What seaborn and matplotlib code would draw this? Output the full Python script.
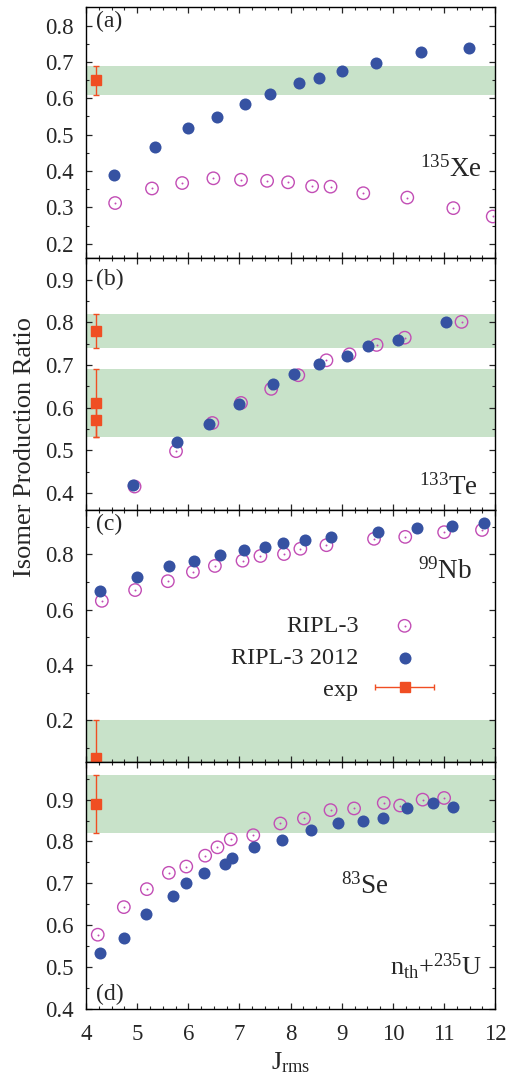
import matplotlib
matplotlib.use("Agg")
import matplotlib.pyplot as plt
import seaborn as sns
import numpy as np
from matplotlib.ticker import MultipleLocator, FormatStrFormatter
from matplotlib.legend_handler import HandlerTuple, HandlerErrorbar
from matplotlib.container import ErrorbarContainer

# panel (a) 135Xe
j_ripl3_a = [4.57, 5.29, 5.88, 6.49, 7.03, 7.54, 7.95, 8.42, 8.78, 9.42, 10.28, 11.18, 11.95]
r_ripl3_a = [0.312, 0.352, 0.367, 0.380, 0.376, 0.373, 0.369, 0.358, 0.357, 0.339, 0.327, 0.298, 0.275]
j_2012_a = [4.55, 5.35, 6.00, 6.56, 7.11, 7.60, 8.17, 8.56, 9.00, 9.66, 10.54, 11.48]
r_2012_a = [0.388, 0.467, 0.517, 0.549, 0.583, 0.611, 0.642, 0.655, 0.676, 0.697, 0.726, 0.739]
exp_a = [0.65]
err_a = [0.04]

# panel (b) 133Te
j_ripl3_b = [4.95, 5.76, 6.47, 7.03, 7.62, 8.15, 8.70, 9.15, 9.68, 10.23, 11.34]
r_ripl3_b = [0.415, 0.498, 0.564, 0.611, 0.644, 0.676, 0.711, 0.725, 0.747, 0.764, 0.801]
j_2012_b = [4.92, 5.78, 6.41, 7.00, 7.65, 8.06, 8.56, 9.11, 9.51, 10.10, 11.03]
r_2012_b = [0.418, 0.520, 0.561, 0.608, 0.655, 0.679, 0.702, 0.722, 0.745, 0.758, 0.801]
exp_b = [0.78, 0.61, 0.57]
err_b = [0.04, 0.08, 0.04]

# panel (c) 99Nb
j_ripl3_c = [4.31, 4.96, 5.60, 6.09, 6.52, 7.06, 7.41, 7.87, 8.19, 8.70, 9.63, 10.24, 11.00, 11.74]
r_ripl3_c = [0.632, 0.671, 0.703, 0.737, 0.758, 0.777, 0.794, 0.801, 0.820, 0.833, 0.856, 0.863, 0.880, 0.888]
j_2012_c = [4.27, 5.00, 5.62, 6.11, 6.62, 7.09, 7.50, 7.86, 8.28, 8.79, 9.71, 10.47, 11.16, 11.78]
r_2012_c = [0.667, 0.718, 0.758, 0.775, 0.796, 0.816, 0.826, 0.841, 0.852, 0.863, 0.880, 0.894, 0.902, 0.914]
exp_c = [0.065]
err_c = [0.135]

# panel (d) 83Se
j_ripl3_d = [4.23, 4.74, 5.19, 5.62, 5.96, 6.33, 6.57, 6.83, 7.27, 7.80, 8.26, 8.78, 9.24, 9.82, 10.14, 10.58, 11.00]
r_ripl3_d = [0.577, 0.643, 0.686, 0.725, 0.740, 0.766, 0.786, 0.805, 0.815, 0.843, 0.855, 0.875, 0.879, 0.892, 0.886, 0.900, 0.904]
j_2012_d = [4.28, 4.74, 5.17, 5.70, 5.96, 6.30, 6.71, 6.86, 7.29, 7.83, 8.39, 8.93, 9.41, 9.81, 10.27, 10.79, 11.18]
r_2012_d = [0.534, 0.570, 0.626, 0.669, 0.701, 0.725, 0.747, 0.760, 0.786, 0.804, 0.828, 0.844, 0.848, 0.857, 0.881, 0.893, 0.883]
exp_d = [0.89]
err_d = [0.07]

j_exp = 4.2
panels = [
    ("(a)", r"$^{135}$Xe", j_ripl3_a, r_ripl3_a, j_2012_a, r_2012_a, exp_a, err_a, (0.16, 0.85), 0.1, 0.05),
    ("(b)", r"$^{133}$Te", j_ripl3_b, r_ripl3_b, j_2012_b, r_2012_b, exp_b, err_b, (0.36, 0.95), 0.1, 0.05),
    ("(c)", r"$^{99}$Nb", j_ripl3_c, r_ripl3_c, j_2012_c, r_2012_c, exp_c, err_c, (0.05, 0.96), 0.2, 0.1),
    ("(d)", r"$^{83}$Se", j_ripl3_d, r_ripl3_d, j_2012_d, r_2012_d, exp_d, err_d, (0.40, 0.99), 0.1, 0.05),
]

blue = "#3652a2"
magenta = "#c24db5"
orange = "#f04e23"
green = "#c8e2c9"

sns.set_theme(style="ticks")
plt.rcParams["font.family"] = ["Liberation Serif", "STIXGeneral", "DejaVu Serif"]
plt.rcParams["mathtext.fontset"] = "custom"
plt.rcParams["mathtext.rm"] = "Liberation Serif"
plt.rcParams["mathtext.it"] = "Liberation Serif:italic"
plt.rcParams["xtick.direction"] = "in"
plt.rcParams["ytick.direction"] = "in"
plt.rcParams["axes.linewidth"] = 1.0

fig = plt.figure(figsize=(5.17, 10.77), dpi=100)
gs = fig.add_gridspec(4, 1, left=0.1663, right=0.958, top=0.9932, bottom=0.0634,
                      hspace=0, height_ratios=[251, 251.7, 252, 246.7])

axes = []
for i, (lab, iso, jr, rr, jn, rn, ev, ee, ylim, maj, mnr) in enumerate(panels):
    ax = fig.add_subplot(gs[i])
    axes.append(ax)
    for v, e in zip(ev, ee):
        ax.axhspan(v - e, v + e, color=green, lw=0, zorder=0)
    sns.scatterplot(x=jr, y=rr, ax=ax, marker="o", s=80, facecolor="none",
                    edgecolor=magenta, linewidth=1.0, zorder=3)
    sns.scatterplot(x=jr, y=rr, ax=ax, marker="o", s=2, color=magenta,
                    linewidth=0, zorder=3)
    sns.scatterplot(x=jn, y=rn, ax=ax, marker="o", s=75, color=blue,
                    linewidth=0, zorder=4)
    ax.errorbar([j_exp] * len(ev), ev, yerr=ee, fmt="s", color=orange, ms=7.5,
                elinewidth=1.0, capsize=2.5, capthick=1.0, zorder=5)
    ax.set_xlim(4, 12)
    ax.set_ylim(*ylim)
    ax.xaxis.set_major_locator(MultipleLocator(1))
    ax.xaxis.set_minor_locator(MultipleLocator(0.25))
    ax.yaxis.set_major_locator(MultipleLocator(maj))
    ax.yaxis.set_minor_locator(MultipleLocator(mnr))
    ax.yaxis.set_major_formatter(FormatStrFormatter("%.1f"))
    ax.tick_params(which="major", length=4.5, width=0.9, labelsize=16.5, pad=9)
    ax.tick_params(which="minor", length=2.2, width=0.8)
    ax.tick_params(axis="x", which="both", top=True, bottom=True)
    ax.tick_params(axis="y", which="both", left=True, right=True)
    for s in ax.spines.values():
        s.set_visible(True)
        s.set_color("black")
    if i < 3:
        ax.tick_params(axis="x", labelbottom=False)
    if i == 3:
        ax.text(0.025, 0.015, lab, transform=ax.transAxes, ha="left", va="bottom", fontsize=17)
    else:
        ax.text(0.025, 0.985 if i != 1 else 0.96, lab, transform=ax.transAxes,
                ha="left", va="top", fontsize=17)

axes[0].text(0.968, 0.324, panels[0][1], transform=axes[0].transAxes, ha="right", va="baseline", fontsize=19.5)
axes[1].text(0.958, 0.06, panels[1][1], transform=axes[1].transAxes, ha="right", va="baseline", fontsize=19.5)
axes[2].text(0.944, 0.726, panels[2][1], transform=axes[2].transAxes, ha="right", va="baseline", fontsize=19.5)
axes[3].text(0.741, 0.465, panels[3][1], transform=axes[3].transAxes, ha="right", va="baseline", fontsize=19.5)
axes[3].text(0.968, 0.137, r"n$_{\rm th}$+$^{235}$U", transform=axes[3].transAxes,
             ha="right", va="baseline", fontsize=19)

axes[3].set_xlabel(r"J$_{\rm rms}$", fontsize=19, labelpad=4)
axes[3].tick_params(axis="x", pad=11)
fig.text(0.048, 0.585, "Isomer Production Ratio", rotation=90, ha="center", va="center", fontsize=19)

# legend in panel (c)
ax = axes[2]
h_open = ax.scatter([np.nan], [np.nan], marker="o", s=80, facecolor="none", edgecolor=magenta, linewidth=1.0)
h_dot = ax.scatter([np.nan], [np.nan], marker="o", s=2, color=magenta, linewidth=0)
h_blue = ax.scatter([np.nan], [np.nan], marker="o", s=75, color=blue, linewidth=0)
h_exp = ax.errorbar([np.nan], [np.nan], xerr=[0.1], fmt="s", color=orange, ms=7.5,
                    elinewidth=1.0, capsize=2.5, capthick=1.0)
ax.legend([(h_open, h_dot), h_blue, h_exp], ["RIPL-3", "RIPL-3 2012", "exp"],
          handler_map={tuple: HandlerTuple(ndivide=1),
                       ErrorbarContainer: HandlerErrorbar(xerr_size=1.2)},
          loc="center", bbox_to_anchor=(0.605, 0.413), frameon=False, markerfirst=False,
          fontsize=17.5, handlelength=2.6, handletextpad=0.6, labelspacing=0.4)

fig.savefig("out.png", dpi=100)
